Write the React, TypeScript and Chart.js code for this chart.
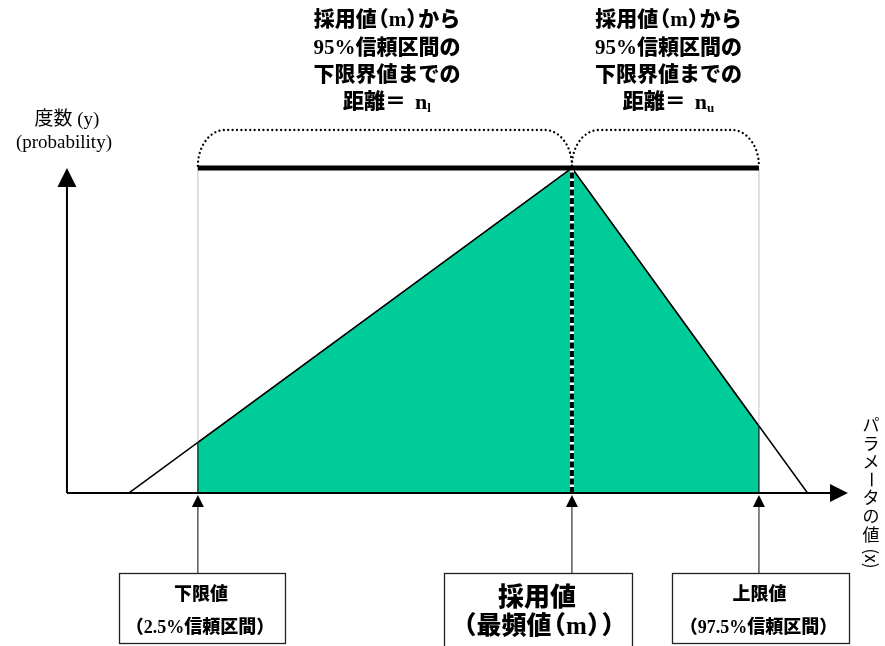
import React, { useEffect, useRef } from "react";
import { Chart, registerables } from "chart.js";

Chart.register(...registerables);

// ---- data (x: parameter value, y: relative frequency, peak = 1) ----
const triangleX = [1.66, 13.5, 19.8];
const triangleY = [0, 1, 0];
const intervalX = [3.5, 3.5, 13.5, 18.5, 18.5];
const intervalY = [0, 0.155, 1, 0.205, 0];
const lowerBound = 3.5;
const modeValue = 13.5;
const upperBound = 18.5;
const peakValue = 1;
const xAxisEnd = 20.88;
const yAxisEnd = 1.0;
const bracketTop = 1.117;

const titleLines = ["採用値（m）から", "95%信頼区間の", "下限界値までの", "距離＝ n"];
const titleSubs = ["l", "u"];
const lowerBoxLabels = ["下限値", "（2.5%信頼区間）"];
const modeBoxLabels = ["採用値", "（最頻値（m））"];
const upperBoxLabels = ["上限値", "（97.5%信頼区間）"];
const yAxisLabels = ["度数 (y)", "(probability)"];
const xAxisLabelChars = ["パ", "ラ", "メ", "ー", "タ", "の", "値"];
const xAxisLabelTail = "(x)";

const GREEN = "rgb(0,204,153)";
const SERIF_CJK_B = (s: number) => `900 ${s}px "Liberation Serif", "Noto Sans CJK JP"`;
const SERIF_CJK = (s: number) => `${s}px "Liberation Serif", "Noto Sans CJK JP"`;
const CJK = (s: number) => `${s}px "Noto Sans CJK JP"`;

type Run = { t: string; f: string; dy?: number; adv?: number; off?: number };

function drawRuns(ctx: CanvasRenderingContext2D, runs: Run[], cx: number, y: number) {
  let total = 0;
  const widths = runs.map((r) => {
    ctx.font = r.f;
    const w = r.adv ?? ctx.measureText(r.t).width;
    total += w;
    return w;
  });
  let x = cx - total / 2;
  ctx.textAlign = "left";
  ctx.textBaseline = "middle";
  runs.forEach((r, i) => {
    ctx.font = r.f;
    ctx.fillText(r.t, x + (r.off ?? 0), y + (r.dy ?? 0));
    x += widths[i];
  });
}

// split a string into runs, compressing fullwidth parentheses
function runsFor(text: string, size: number, parenAdv: number, bold = true): Run[] {
  const f = bold ? SERIF_CJK_B(size) : SERIF_CJK(size);
  const runs: Run[] = [];
  let buf = "";
  const flush = () => {
    if (buf) runs.push({ t: buf, f });
    buf = "";
  };
  for (const ch of text) {
    if (ch === "（") {
      flush();
      runs.push({ t: ch, f, adv: parenAdv, off: parenAdv - size });
    } else if (ch === "）") {
      flush();
      runs.push({ t: ch, f, adv: parenAdv });
    } else buf += ch;
  }
  flush();
  return runs;
}

function arrowHead(ctx: CanvasRenderingContext2D, tx: number, ty: number, dir: "up" | "right", len: number, half: number) {
  ctx.beginPath();
  if (dir === "up") {
    ctx.moveTo(tx, ty);
    ctx.lineTo(tx - half, ty + len);
    ctx.lineTo(tx + half, ty + len);
  } else {
    ctx.moveTo(tx, ty);
    ctx.lineTo(tx - len, ty - half);
    ctx.lineTo(tx - len, ty + half);
  }
  ctx.closePath();
  ctx.fill();
}

const overlayPlugin = {
  id: "overlay",
  afterDatasetsDraw(chart: any) {
    const ctx: CanvasRenderingContext2D = chart.ctx;
    const xs = chart.scales.x;
    const ys = chart.scales.y;
    const px = (v: number) => xs.getPixelForValue(v);
    const py = (v: number) => ys.getPixelForValue(v);
    const x0 = px(0);
    const y0 = py(0);
    ctx.save();
    ctx.fillStyle = "#000";
    ctx.strokeStyle = "#000";

    // axes
    ctx.lineWidth = 2;
    ctx.beginPath();
    ctx.moveTo(x0, y0);
    ctx.lineTo(px(xAxisEnd) - 17, y0);
    ctx.moveTo(x0, y0);
    ctx.lineTo(x0, py(yAxisEnd) + 18);
    ctx.stroke();
    arrowHead(ctx, px(xAxisEnd), y0, "right", 18, 9);
    arrowHead(ctx, x0, py(yAxisEnd), "up", 19, 9.5);

    // dotted brackets
    const L = px(lowerBound);
    const M = px(modeValue);
    const U = px(upperBound);
    const T = py(bracketTop);
    const B = py(peakValue) - 2;
    const rx = 27;
    const ry = B - T;
    ctx.save();
    ctx.lineWidth = 2.3;
    ctx.lineCap = "round";
    ctx.setLineDash([0.01, 4.4]);
    ctx.beginPath();
    ctx.ellipse(L + rx, B, rx, ry, 0, Math.PI, 1.5 * Math.PI);
    ctx.lineTo(M - rx, T);
    ctx.ellipse(M - rx, B, rx, ry, 0, 1.5 * Math.PI, 2 * Math.PI);
    ctx.stroke();
    ctx.beginPath();
    ctx.ellipse(M + rx, B, rx, ry, 0, Math.PI, 1.5 * Math.PI);
    ctx.lineTo(U - rx, T);
    ctx.ellipse(U - rx, B, rx, ry, 0, 1.5 * Math.PI, 2 * Math.PI);
    ctx.stroke();
    ctx.restore();

    // titles
    const titleCenters = [px((lowerBound + modeValue) / 2) + 2, px((modeValue + upperBound) / 2) + 3];
    const titleYs = [21, 49, 76, 103];
    titleCenters.forEach((cx, k) => {
      titleLines.forEach((line, i) => {
        if (i < 3) {
          drawRuns(ctx, runsFor(line, 21, 12), cx, titleYs[i]);
        } else {
          drawRuns(
            ctx,
            [
              { t: "距離＝", f: SERIF_CJK_B(21) },
              { t: " ", f: SERIF_CJK_B(21), adv: 9 },
              { t: "n", f: 'bold 22px "Liberation Serif"' },
              { t: titleSubs[k], f: 'bold 13px "Liberation Serif"', dy: 6 },
            ],
            cx,
            titleYs[i]
          );
        }
      });
    });

    // y-axis label
    ctx.textAlign = "center";
    ctx.textBaseline = "middle";
    ctx.font = SERIF_CJK(19);
    ctx.fillText(yAxisLabels[0], x0, 120);
    ctx.font = '19px "Liberation Serif"';
    ctx.fillText(yAxisLabels[1], x0 - 3, 143);

    // x-axis label (vertical writing)
    const lx = 871;
    const step = 18.2;
    const firstY = 425;
    ctx.font = CJK(17);
    xAxisLabelChars.forEach((ch, i) => {
      const cy = firstY + i * step;
      if (ch === "ー") {
        ctx.save();
        ctx.translate(lx, cy);
        ctx.rotate(Math.PI / 2);
        ctx.fillText(ch, 0, 0);
        ctx.restore();
      } else {
        ctx.fillText(ch, lx, cy);
      }
    });
    ctx.save();
    ctx.translate(lx, firstY + xAxisLabelChars.length * step + 6);
    ctx.rotate(Math.PI / 2);
    ctx.fillText(xAxisLabelTail, 0, 0);
    ctx.restore();

    // pointer arrows and boxes
    const boxTop = 573;
    const boxes = [
      { v: lowerBound, l: 119, r: 285, b: 643, labels: lowerBoxLabels, big: false },
      { v: modeValue, l: 444, r: 632, b: 652, labels: modeBoxLabels, big: true },
      { v: upperBound, l: 672, r: 849, b: 643, labels: upperBoxLabels, big: false },
    ];
    boxes.forEach((bx) => {
      const ax = px(bx.v);
      ctx.strokeStyle = "#333";
      ctx.lineWidth = 1.2;
      ctx.beginPath();
      ctx.moveTo(ax, boxTop);
      ctx.lineTo(ax, y0 + 12);
      ctx.stroke();
      ctx.fillStyle = "#000";
      arrowHead(ctx, ax, y0 + 2, "up", 12, 6);
      ctx.strokeStyle = "#222";
      ctx.lineWidth = 1.3;
      ctx.strokeRect(bx.l + 0.5, boxTop + 0.5, bx.r - bx.l, bx.b - boxTop);
      const cx = (bx.l + bx.r) / 2;
      if (bx.big) {
        drawRuns(ctx, runsFor(bx.labels[0], 26, 14), cx - 1, 599);
        drawRuns(ctx, runsFor(bx.labels[1], 25, 14.5), cx + 1, 628);
      } else {
        drawRuns(ctx, runsFor(bx.labels[0], 18, 18), cx - 1, 595);
        drawRuns(ctx, runsFor(bx.labels[1], 18, 18), cx - 2, 628);
      }
    });

    ctx.restore();
  },
};

export default function App() {
  const ref = useRef<HTMLCanvasElement | null>(null);
  useEffect(() => {
    if (!ref.current) return;
    const pts = (xs: number[], ys: number[]) => xs.map((x, i) => ({ x, y: ys[i] }));
    const chart = new Chart(ref.current, {
      type: "scatter",
      data: {
        datasets: [
          {
            label: "thick",
            data: pts([lowerBound, upperBound], [peakValue, peakValue]),
            showLine: true,
            borderColor: "#000",
            borderWidth: 5,
            pointRadius: 0,
            order: 1,
          },
          {
            label: "mode dashed",
            data: pts([modeValue, modeValue], [0, peakValue]),
            showLine: true,
            borderColor: "#000",
            borderWidth: 4,
            borderDash: [6, 2.5],
            pointRadius: 0,
            order: 2,
          },
          {
            label: "mode base",
            data: pts([modeValue, modeValue], [0, peakValue]),
            showLine: true,
            borderColor: "#fff",
            borderWidth: 4,
            pointRadius: 0,
            order: 3,
          },
          {
            label: "guide lower",
            data: pts([lowerBound, lowerBound], [intervalY[1], peakValue]),
            showLine: true,
            borderColor: "#888",
            borderWidth: 1,
            borderDash: [1, 1],
            pointRadius: 0,
            order: 4,
          },
          {
            label: "guide upper",
            data: pts([upperBound, upperBound], [intervalY[3], peakValue]),
            showLine: true,
            borderColor: "#888",
            borderWidth: 1,
            borderDash: [1, 1],
            pointRadius: 0,
            order: 5,
          },
          {
            label: "triangle",
            data: pts(triangleX, triangleY),
            showLine: true,
            borderColor: "#000",
            borderWidth: 1.5,
            pointRadius: 0,
            tension: 0,
            order: 6,
          },
          {
            label: "interval",
            data: pts(intervalX, intervalY),
            showLine: true,
            borderColor: "#111",
            borderWidth: 1.2,
            backgroundColor: GREEN,
            fill: "origin",
            pointRadius: 0,
            tension: 0,
            order: 7,
          },
        ],
      },
      options: {
        animation: false,
        responsive: false,
        devicePixelRatio: 1,
        layout: { padding: 0 },
        plugins: { legend: { display: false }, tooltip: { enabled: false }, title: { display: false } },
        events: [],
        scales: {
          x: { type: "linear", min: -1.79, max: 21.87, display: false },
          y: { type: "linear", min: -0.471, max: 1.517, display: false },
        },
      },
      plugins: [overlayPlugin],
    });
    return () => chart.destroy();
  }, []);
  return (
    <div style={{ position: "absolute", left: 0, top: 0, width: 885, height: 646, background: "#fff" }}>
      <canvas ref={ref} width={885} height={646} style={{ display: "block" }} />
    </div>
  );
}
